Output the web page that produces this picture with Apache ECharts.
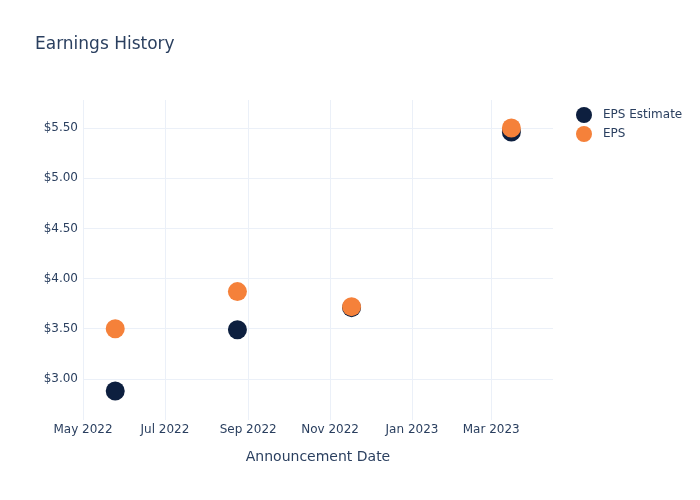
<!DOCTYPE html>
<html>
<head>
<meta charset="utf-8">
<script src="https://cdn.jsdelivr.net/npm/echarts@6/dist/echarts.min.js"></script>
<style>html,body{margin:0;padding:0;background:#fff}#c{width:700px;height:500px}</style>
</head>
<body>
<div id="c"></div>
<script>
const dates = ['2022-05-25', '2022-08-24', '2022-11-17', '2023-03-16'];
const epsEstimate = [2.88, 3.49, 3.71, 5.46];
const eps = [3.50, 3.87, 3.72, 5.50];
const xTickDates = ['2022-05-01', '2022-07-01', '2022-09-01', '2022-11-01', '2023-01-01', '2023-03-01'];
const yTicks = [3.0, 3.5, 4.0, 4.5, 5.0, 5.5];
const xRange = ['2022-05-01', '2023-04-16'];
const yRange = [2.59, 5.78];

const MONTHS = ['Jan','Feb','Mar','Apr','May','Jun','Jul','Aug','Sep','Oct','Nov','Dec'];
const ts = s => { const p = s.split('-').map(Number); return Date.UTC(p[0], p[1]-1, p[2]); };
const fmtDate = v => { const d = new Date(v); return MONTHS[d.getUTCMonth()] + ' ' + d.getUTCFullYear(); };

const FONT = 'DejaVu Sans';
const TXT = '#2a3f5f';
const GRID = '#ebf0f8';

const chart = echarts.init(document.getElementById('c'), null, {renderer: 'canvas'});
chart.setOption({
  animation: false,
  backgroundColor: '#fff',
  textStyle: {fontFamily: FONT, color: TXT},
  title: {
    text: 'Earnings History', left: 30, top: 31,
    textStyle: {fontFamily: FONT, fontSize: 17, fontWeight: 'normal', color: TXT}
  },
  legend: {
    orient: 'vertical', left: 571, top: 102, itemGap: 3,
    itemWidth: 20, itemHeight: 16, icon: 'circle',
    textStyle: {fontFamily: FONT, fontSize: 12, color: TXT, padding: [0, 0, 0, 4]},
    data: ['EPS Estimate', 'EPS']
  },
  grid: {left: 83, right: 147, top: 100, bottom: 80, containLabel: false},
  xAxis: {
    type: 'value',
    min: ts(xRange[0]), max: ts(xRange[1]),
    name: 'Announcement Date', nameLocation: 'middle', nameGap: 30,
    nameTextStyle: {fontFamily: FONT, fontSize: 14, color: TXT},
    axisLine: {show: false},
    axisTick: {show: false, customValues: xTickDates.map(ts)},
    axisLabel: {customValues: xTickDates.map(ts), formatter: fmtDate, fontFamily: FONT, fontSize: 12, color: TXT, margin: 4},
    splitLine: {show: true, lineStyle: {color: GRID, width: 1}}
  },
  yAxis: {
    type: 'value',
    min: yRange[0], max: yRange[1],
    axisLine: {show: false},
    axisTick: {show: false, customValues: yTicks},
    axisLabel: {customValues: yTicks, formatter: v => '$' + v.toFixed(2), fontFamily: FONT, fontSize: 12, color: TXT, margin: 5},
    splitLine: {show: true, lineStyle: {color: GRID, width: 1}}
  },
  series: [
    {
      name: 'EPS Estimate', type: 'scatter', symbolSize: 19,
      itemStyle: {color: '#0d1f3f', opacity: 1},
      data: dates.map((d, i) => [ts(d), epsEstimate[i]])
    },
    {
      name: 'EPS', type: 'scatter', symbolSize: 19,
      itemStyle: {color: '#f5813a', opacity: 1},
      data: dates.map((d, i) => [ts(d), eps[i]])
    }
  ]
});
</script>
</body>
</html>
